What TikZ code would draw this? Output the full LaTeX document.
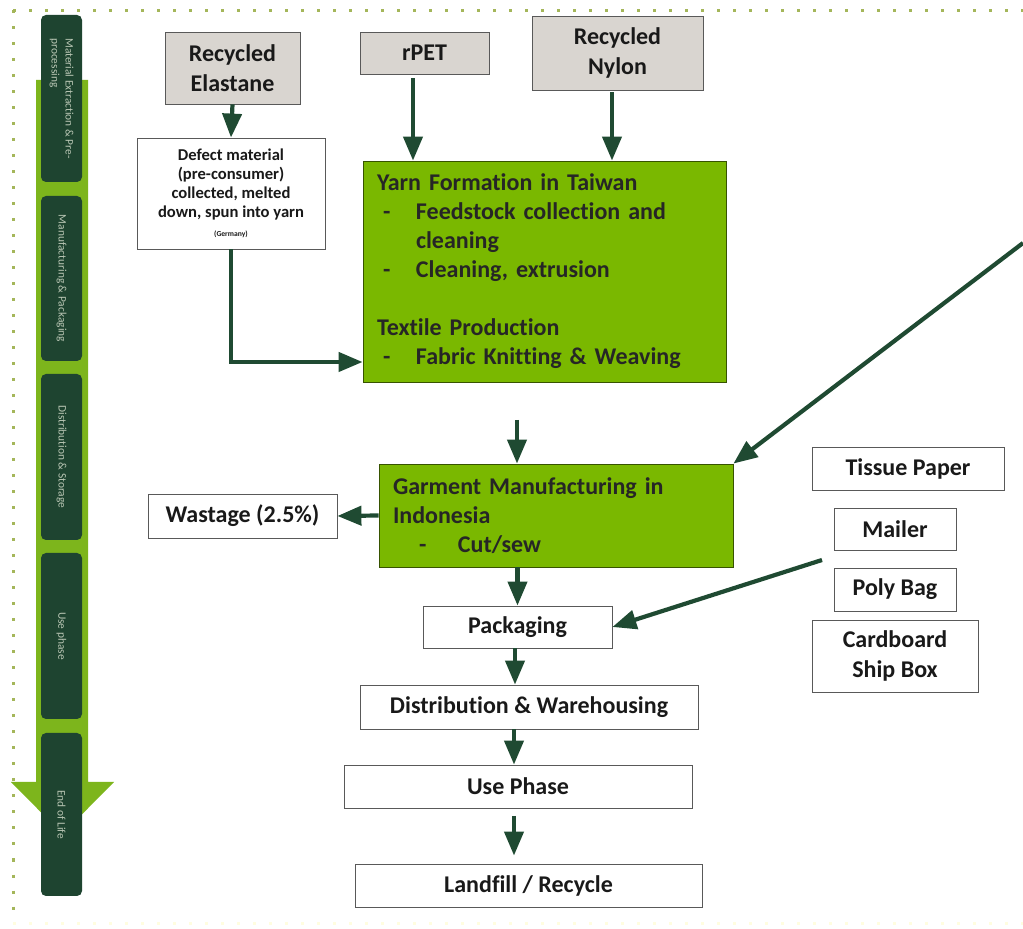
\documentclass[tikz,border=0pt]{standalone}
\usepackage{fontspec}
\setmainfont[Ligatures=NoCommon]{Carlito}
\usetikzlibrary{arrows.meta}

\definecolor{leafgreen}{HTML}{7AB800}
\definecolor{darkpine}{HTML}{1F4A32}
\definecolor{stonegray}{HTML}{D9D5D0}
\definecolor{dotolive}{HTML}{A4B65A}
\definecolor{bargreen}{HTML}{7DB51C}
\definecolor{barpine}{HTML}{1E4430}
\definecolor{bartext}{HTML}{B9C6B4}

\newcommand{\dashitem}{\makebox[19.5pt][l]{\hspace{3pt}-}}

\begin{document}
\begin{tikzpicture}[x=0.5pt, y=-0.5pt]
	\tikzset{
	    srcbox/.style= {draw=black!65, fill=stonegray, inner sep=0pt, align=center, text=black!90, font=\bfseries\fontsize{12}{15}\selectfont},
	    whitebox/.style= {draw=black!65, fill=white, inner sep=0pt, align=center, text=black!90, font=\bfseries\fontsize{12}{15}\selectfont},
	    greenbox/.style= {draw=black!55!leafgreen, fill=leafgreen, inner xsep=7pt, inner ysep=0pt, align=left, text=black!85, font=\bfseries\fontsize{12}{14.5}\selectfont},
	    stagebox/.style= {fill=barpine, rounded corners=2.5pt, rotate=-90, minimum height=20.5pt, inner sep=0pt, align=left, text=bartext, font=\fontsize{5.7}{7}\selectfont},
	    flow/.style= {-{Triangle[width=9.5pt, length=12pt]}, line width=2.1pt, draw=darkpine},
	    rim/.style= {draw=dotolive, line width=1.5pt, dash pattern=on 1.5pt off 6.5pt},
	}
	
	\useasboundingbox (0,0) rectangle (1023,929);
	\fill[white] (0,0) rectangle (1023,929);
	
	% dotted frame
	\draw[rim] (13,10.5) -- (1023,10.5);
	\draw[rim] (13,10.5) -- (13,918);
	\draw[rim, draw=yellow!12] (13,923) -- (1023,923);
	
	% life cycle bar
	\fill[bargreen] (36,80) -- (88,80) -- (88,782) -- (114,782) -- (62.5,834) -- (11,782) -- (36,782) -- cycle;
	\node[stagebox, minimum width=83.5pt] (st1) at (61.5,98.5) {Material Extraction \& Pre-\\processing};
	\node[stagebox, minimum width=82.5pt] (st2) at (61.5,278.5) {Manufacturing \& Packaging};
	\node[stagebox, minimum width=83pt] (st3) at (61.5,457) {Distribution \& Storage};
	\node[stagebox, minimum width=83pt] (st4) at (61.5,636) {Use phase};
	\node[stagebox, minimum width=81.5pt] (st5) at (61.5,814.5) {End of Life};
	
	% raw materials
	\node[srcbox, minimum width=67.5pt, minimum height=36pt] (elast) at (232.5,68) {Recycled\\Elastane};
	\node[srcbox, minimum width=64.5pt, minimum height=21pt] (rpet) at (424.5,53) {rPET};
	\node[srcbox, minimum width=85.5pt, minimum height=37pt] (nylon) at (617.5,53) {Recycled\\Nylon};
	
	\node[whitebox, minimum width=94pt, minimum height=55.5pt, font=\bfseries\fontsize{8.3}{9.5}\selectfont] (defect) at (231,193.5)
	    {Defect material\\(pre-consumer)\\collected, melted\\down, spun into yarn\\{\fontsize{3.8}{4.5}\selectfont(Germany)}};
	
	\node[greenbox, text width=167.5pt, minimum height=110.5pt] (yarn) at (544.5,271.5)
	    {Yarn Formation in Taiwan\\
	     \dashitem Feedstock collection and\\
	     \hspace*{19.5pt}cleaning\\
	     \dashitem Cleaning, extrusion\\[14.5pt]
	     Textile Production\\
	     \dashitem Fabric Knitting \& Weaving};
	
	\node[greenbox, text width=163pt, minimum height=51.5pt] (garment) at (556,515.5)
	    {Garment Manufacturing in\\
	     Indonesia\\
	     \makebox[32.5pt][l]{\hspace{13pt}-}Cut/sew};
	
	\node[whitebox, minimum width=94.5pt, minimum height=22pt] (waste) at (242.5,516) {Wastage (2.5\%)};
	\node[whitebox, minimum width=94.5pt, minimum height=21pt] (pack) at (517.5,627) {Packaging};
	
	% packaging materials
	\node[whitebox, minimum width=96pt, minimum height=21.5pt] (tissue) at (908,468.5) {Tissue Paper};
	\node[whitebox, minimum width=61pt, minimum height=21pt] (mailer) at (895,529) {Mailer};
	\node[whitebox, minimum width=61pt, minimum height=21.5pt] (poly) at (895,589.5) {Poly Bag};
	\node[whitebox, minimum width=83pt, minimum height=36pt] (cardb) at (895,656) {Cardboard\\Ship Box};
	
	\node[whitebox, minimum width=169pt, minimum height=22pt] (distr) at (529,707) {Distribution \& Warehousing};
	\node[whitebox, minimum width=174pt, minimum height=21.5pt] (use) at (518,786.5) {Use Phase};
	\node[whitebox, minimum width=173.5pt, minimum height=21.5pt] (landf) at (528.5,885.5) {Landfill / Recycle};
	
	\coordinate (yg) at (517,420);
	\coordinate (offpage) at (1023,243);
	\coordinate (packin) at (822,560);
	\coordinate (ul) at (514,816);
	
	\draw[flow] (elast.south) -- (defect.north);
	\draw[flow, shorten <=2pt] ([xshift=-5.75pt]rpet.south) -- ([xshift=-5.75pt]rpet.south |- yarn.north);
	\draw[flow, shorten <=1pt] ([xshift=-2.75pt]nylon.south) -- ([xshift=-2.75pt]nylon.south |- yarn.north);
	\draw[flow] (defect.south) |- (yarn.west |- 0,362);
	\draw[flow] (yg) -- (yg |- garment.north);
	\draw[flow] (offpage) -- (garment.north east);
	\draw[flow] (garment.west) -- (waste.east);
	\draw[flow] (garment.south -| pack.north) -- (pack.north);
	\draw[flow] (packin) -- (pack.east);
	\draw[flow] (pack.south -| 515,0) -- (distr.north -| 515,0);
	\draw[flow] (distr.south -| 514,0) -- (use.north -| 514,0);
	\draw[flow, shorten >=4pt] (ul) -- (ul |- landf.north);
\end{tikzpicture}
\end{document}
